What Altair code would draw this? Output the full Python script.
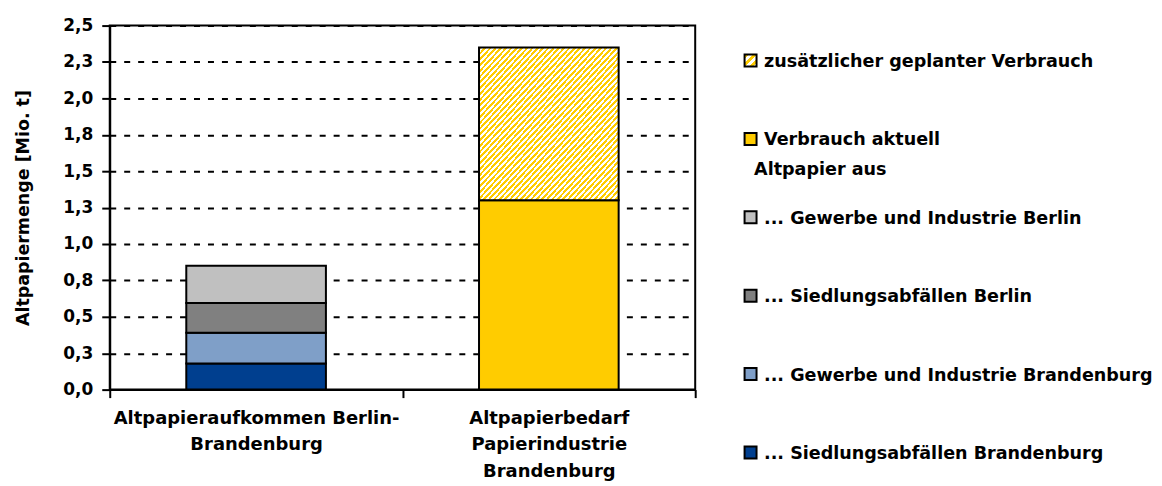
import altair as alt
import pandas as pd

# ---- data ----
categories = ["Altpapieraufkommen Berlin-\nBrandenburg",
              "Altpapierbedarf\nPapierindustrie\nBrandenburg"]
series = ["... Siedlungsabfällen Brandenburg",
          "... Gewerbe und Industrie Brandenburg",
          "... Siedlungsabfällen Berlin",
          "... Gewerbe und Industrie Berlin",
          "Verbrauch aktuell",
          "zusätzlicher geplanter Verbrauch"]
series_category = [0, 0, 0, 0, 1, 1]
values = [0.18, 0.21, 0.205, 0.255, 1.30, 1.05]
colors = ["#003F8F", "#7F9FC8", "#808080", "#C0C0C0", "#FFCC00", "#FFCC00"]
hatched_series = "zusätzlicher geplanter Verbrauch"
legend_note = "Altpapier aus"
legend_note_after = "Verbrauch aktuell"
y_ticks = [0, 0.25, 0.5, 0.75, 1.0, 1.25, 1.5, 1.75, 2.0, 2.25, 2.5]
y_title = "Altpapiermenge [Mio. t]"

df = pd.DataFrame({
    "category": [categories[i] for i in series_category],
    "series": series,
    "value": values,
    "order": list(range(len(series))),
})

FONT = "DejaVu Sans"
YELLOW = "#FFCC00"


def hatch(n):
    stops = []
    for k in range(n):
        a, b, c = k / n, (k + 0.5) / n, (k + 1) / n
        stops += [alt.GradientStop(color=YELLOW, offset=a),
                  alt.GradientStop(color=YELLOW, offset=b),
                  alt.GradientStop(color="white", offset=b),
                  alt.GradientStop(color="white", offset=c)]
    return alt.LinearGradient(gradient="linear", stops=stops,
                              x1=0, y1=0, x2=1, y2=1)


solid_series = [s for s in series if s != hatched_series]
solid_colors = [c for s, c in zip(series, colors) if s != hatched_series]

base = alt.Chart(df).transform_stack(
    stack="value", groupby=["category"],
    sort=[alt.SortField("order", order="ascending")],
    as_=["y0", "y1"],
)

x_enc = alt.X(
    "category:N", sort=categories,
    scale=alt.Scale(paddingInner=0, paddingOuter=0),
    axis=alt.Axis(
        title=None, labelAngle=0, labelExpr="split(datum.label, '\\n')",
        tickBand="extent", tickSize=8, tickWidth=2, tickColor="black",
        domainColor="black", domainWidth=2, grid=False, labelLimit=0,
        labelFont=FONT, labelFontSize=18, labelFontWeight="bold",
        labelColor="black", labelLineHeight=26.5, labelPadding=12,
    ),
)
y_enc = alt.Y(
    "y1:Q",
    scale=alt.Scale(domain=[0, 2.5], nice=False, zero=True),
    axis=alt.Axis(
        title=y_title, values=y_ticks,
        labelExpr="replace(format(datum.value, '.1f'), '.', ',')",
        grid=True, gridColor="black", gridDash=[6, 8], gridWidth=2,
        tickSize=8, tickWidth=2, tickColor="black",
        domainColor="black", domainWidth=2,
        labelFont=FONT, labelFontSize=17, labelFontWeight="bold",
        labelColor="black", labelPadding=9,
        titleFont=FONT, titleFontSize=17.5, titleFontWeight="bold",
        titleColor="black", titlePadding=30,
    ),
)

solid = base.transform_filter(
    alt.FieldOneOfPredicate(field="series", oneOf=solid_series)
).mark_bar(size=140, stroke="black", strokeWidth=2).encode(
    x=x_enc, y=y_enc, y2="y0:Q",
    color=alt.Color("series:N", scale=alt.Scale(domain=solid_series, range=solid_colors), legend=None),
)
hatched = base.transform_filter(
    alt.FieldEqualPredicate(field="series", equal=hatched_series)
).mark_bar(size=140, stroke="black", strokeWidth=2, fill=hatch(53)).encode(
    x=x_enc, y=y_enc, y2="y0:Q",
)

main = alt.layer(solid, hatched).properties(
    width=587, height=365,
    view=alt.ViewBackground(stroke="black", strokeWidth=2),
)

# ---- legend panel ----
legend_order = list(reversed(series))
leg_df = pd.DataFrame({"series": legend_order})
ly = alt.Y("series:N", sort=legend_order,
           scale=alt.Scale(type="point", padding=0.299, align=0.745),
           axis=None)

leg_base = alt.Chart(leg_df)
sw_solid = leg_base.transform_filter(
    alt.FieldOneOfPredicate(field="series", oneOf=solid_series)
).mark_square(size=144, stroke="black", strokeWidth=2, opacity=1).encode(
    y=ly, x=alt.value(12.5),
    color=alt.Color("series:N", scale=alt.Scale(domain=solid_series, range=solid_colors), legend=None),
)
sw_hatch = leg_base.transform_filter(
    alt.FieldEqualPredicate(field="series", equal=hatched_series)
).mark_square(size=144, stroke="black", strokeWidth=2, opacity=1, fill=hatch(3)).encode(
    y=ly, x=alt.value(12.5),
)
labels = leg_base.mark_text(
    align="left", baseline="middle", dy=1.5, font=FONT, fontSize=17.6,
    fontWeight="bold", color="black",
).encode(y=ly, x=alt.value(26), text="series:N")
note = alt.Chart(pd.DataFrame({"series": [legend_note_after], "note": [legend_note]})).mark_text(
    align="left", baseline="middle", dy=31, font=FONT, fontSize=17.6,
    fontWeight="bold", color="black",
).encode(y=ly, x=alt.value(16), text="note:N")

legend = alt.layer(sw_solid, sw_hatch, labels, note).properties(
    width=380, height=440,
    view=alt.ViewBackground(stroke="transparent"),
)

chart = alt.hconcat(main, legend, spacing=40).properties(
    padding={"left": 5, "top": 7, "right": 0, "bottom": 0},
).resolve_scale(color="independent", y="independent")

chart.save("out.html", embed_options={"renderer": "svg", "actions": False})
